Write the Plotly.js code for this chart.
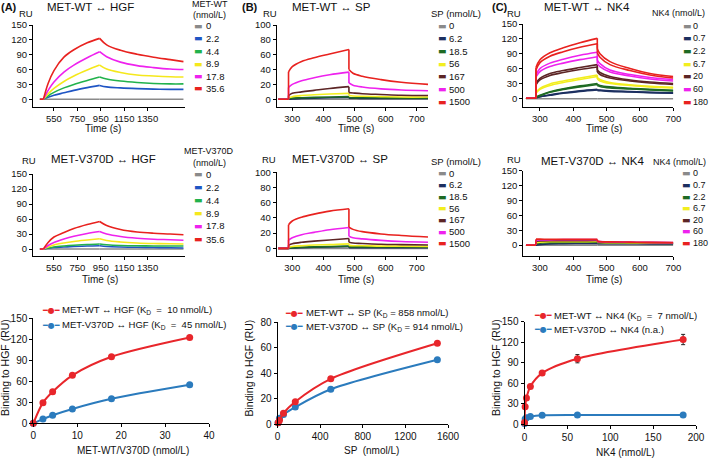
<!DOCTYPE html>
<html><head><meta charset="utf-8">
<script src="https://cdn.plot.ly/plotly-3.0.1.min.js"></script>
<style>html,body{margin:0;padding:0;background:#fff}#chart{width:709px;height:459px}</style>
</head><body><div id="chart"></div>
<script>
// ================= DATA =================
// concentration labels
const concHGF = ['0', '2.2', '4.4', '8.9', '17.8', '35.6'];
const concSP = ['0', '6.2', '18.5', '56', '167', '500', '1500'];
const concNK4 = ['0', '0.7', '2.2', '6.7', '20', '60', '180'];

// ---- (A) HGF sensorgrams: time (s) ----
const timeHGF = [430, 460, 500, 550, 635, 720, 834, 940, 1000, 1118, 1260, 1401, 1543, 1656];
const wtHGF_0    = [0, 0, 0, 0, 0, 0, 0, 0, 0, 0, 0, 0, 0, 0];
const wtHGF_2_2  = [0, 0, 4, 8, 13, 18, 23.5, 28, 25, 23, 21.5, 20.5, 20, 20];
const wtHGF_4_4  = [0, 0, 7, 14, 23, 30, 38, 45, 41, 37, 34, 32, 31, 31];
const wtHGF_8_9  = [0, 0, 11, 22, 36, 47, 59, 69, 61, 54, 49, 47, 45.5, 45];
const wtHGF_17_8 = [0, 0, 18, 35, 55, 69, 84, 96, 86, 75, 68, 64, 61, 60];
const wtHGF_35_6 = [0, 0, 32, 58, 85, 100, 114, 123, 110, 99, 91, 85, 80, 76];

const mutHGF_0    = [0, 0, 0, 0, 0, 0, 0, 0, 0, 0, 0, 0, 0, 0];
const mutHGF_2_2  = [0, 0, 1.5, 3, 4, 5, 6, 6.5, 5, 4, 3.5, 3, 2.5, 2];
const mutHGF_4_4  = [0, 0, 2, 4, 6, 7.5, 9, 10, 8.5, 7, 6.5, 6, 6, 6];
const mutHGF_8_9  = [0, 0, 4, 8, 12, 15, 18, 20.5, 17, 14, 12, 11, 10.5, 10];
const mutHGF_17_8 = [0, 0, 7, 13, 20, 25.5, 31, 35, 30, 25, 21.5, 19.5, 18.5, 17.5];
const mutHGF_35_6 = [0, 0, 13, 24, 33, 41, 49, 55, 47, 39, 34, 31.5, 30, 28.5];

// ---- (B) SP sensorgrams ----
const timeSP = [255, 288, 288, 300, 330, 370, 420, 482, 482, 495, 525, 585, 650, 736];
const wtSP_0    = [0, 0, 0, 0, 0, 0, 0, 0, 0, 0, 0, 0, 0, 0];
const wtSP_6_2  = [0, 0, 0, 0.5, 1, 1.5, 2, 2.5, 1.5, 1.5, 1, 1, 1, 1];
const wtSP_18_5 = [0, 0, 0.5, 1.5, 2, 2.5, 3, 3.5, 2.5, 2, 2, 2, 1.5, 1.5];
const wtSP_56   = [0, 0, 2, 3.5, 5, 6, 7, 8, 5, 4.5, 4, 3.5, 3, 3];
const wtSP_167  = [0, 0, 5, 8, 10, 12, 14.5, 17, 9, 8.5, 7.5, 6.5, 5.5, 5];
const wtSP_500  = [0, 0, 16, 20, 25, 29, 33, 36.5, 22, 19, 16.5, 14, 12.5, 11.5];
const wtSP_1500 = [0, 0, 37, 44, 51, 56, 61, 67, 40, 35, 31, 26.5, 23, 20];

const mutSP_0    = [0, 0, 0, 0, 0, 0, 0, 0, 0, 0, 0, 0, 0, 0];
const mutSP_6_2  = [0, 0, 0, 0.5, 1, 1.5, 2, 2.5, 1, 1, 1, 1, 1, 1];
const mutSP_18_5 = [0, 0, 0.5, 1, 1.5, 2, 2.5, 3, 2, 2, 2, 2, 2, 2];
const mutSP_56   = [0, 0, 1.5, 2.5, 3.5, 4.5, 5, 6, 4, 3.5, 3.5, 3, 3, 2.5];
const mutSP_167  = [0, 0, 4, 6, 8, 9.5, 11, 13, 8, 7, 6.5, 5.5, 5, 4.5];
const mutSP_500  = [0, 0, 11, 14, 18, 21, 24.5, 27.5, 16, 14, 12.5, 10.5, 9, 8];
const mutSP_1500 = [0, 0, 31, 36, 41, 45, 49, 52, 28, 25, 22, 19, 17, 15];

// ---- (C) NK4 sensorgrams (two replicate runs for WT) ----
const timeNK4 = [258, 288, 288, 300, 330, 370, 420, 472, 472, 480, 510, 570, 630, 700];
const wtNK4_0     = [-1, -1, -1, -1, -1, -1, -1, -1, -1, -1, -1, -1, -1, -1];
const wtNK4_0_7a  = [0, 0, 1, 3, 7, 11, 15, 18, 17, 16.5, 15, 13.5, 12, 11];
const wtNK4_0_7b  = [0, 0, 1, 3, 6, 10, 14, 17, 16, 15.5, 14, 13, 11.5, 10.5];
const wtNK4_2_2a  = [0, 0, 2, 6, 13, 19, 25, 30, 28, 26, 23, 20, 18, 16];
const wtNK4_2_2b  = [0, 0, 2, 5, 12, 18, 23, 28, 26, 24, 21, 19, 17, 15];
const wtNK4_6_7a  = [0, 0, 12, 20, 29, 35, 41, 47, 42, 38, 32, 27, 24, 22];
const wtNK4_6_7b  = [0, 0, 10, 18, 26, 32, 38, 44, 39, 35, 30, 26, 23, 21];
const wtNK4_20a   = [0, 0, 30, 40, 50, 56, 62, 68, 57, 52, 44, 37, 33, 30];
const wtNK4_20b   = [0, 0, 27, 37, 46, 52, 58, 63, 53, 48, 41, 35, 31, 28];
const wtNK4_60a   = [0, 0, 48, 60, 71, 79, 87, 93, 77, 70, 57, 48, 42, 38];
const wtNK4_60b   = [0, 0, 43, 54, 64, 71, 78, 84, 70, 64, 53, 45, 39, 35];
const wtNK4_180a  = [0, 0, 62, 78, 92, 102, 112, 121, 100, 90, 74, 60, 50, 44];
const wtNK4_180b  = [0, 0, 57, 72, 85, 94, 103, 110, 92, 83, 68, 56, 47, 41];

const mutNK4_0   = [0, 0, 0, 0, 0, 0, 0, 0, 0, 0, 0, 0, 0, 0];
const mutNK4_0_7 = [0, 0, 0, 1, 2.5, 3, 3.5, 3.5, 3, 3, 3, 3, 2.5, 2.5];
const mutNK4_2_2 = [0, 0, 2, 4, 5, 5.5, 6, 6, 5, 5, 4.5, 4, 4, 3.5];
const mutNK4_6_7 = [0, 0, 5, 6, 7, 7, 7, 7.5, 6, 5.5, 5, 4.5, 4, 4];
const mutNK4_20  = [0, 0, 8, 8.5, 9, 9, 9, 9.5, 7, 6.5, 6, 5.5, 5, 4.5];
const mutNK4_60  = [0, 0, 10, 10.5, 10.5, 11, 11, 11, 7.5, 7, 6.5, 6, 5.5, 5];
const mutNK4_180 = [0, 0, 12, 12, 11.5, 11.5, 11.5, 11.5, 8, 7, 6.5, 6, 5.5, 5];

// ---- bottom row: binding vs concentration ----
const bindHGF_x   = [0, 2.2, 4.4, 8.9, 17.8, 35.6];
const bindHGF_wt  = [0, 29.5, 45, 68.5, 95, 122.5];
const bindHGF_mut = [0, 6, 11.5, 20.5, 35, 55];

const bindSP_x   = [6.2, 18.5, 56, 167, 500, 1500];
const bindSP_wt  = [1, 3, 8.5, 17.5, 35.5, 63.5];
const bindSP_mut = [1, 4.5, 7.5, 13.3, 27.3, 50.5];

const bindNK4_x      = [0, 0.76, 2.28, 6.85, 20.6, 61.7, 185];
const bindNK4_wt     = [3, 26, 38.5, 55.5, 75, 96, 124];
const bindNK4_wt_err = [0, 3, 2, 2, 2, 6, 7.5];
const bindNK4_mut    = [1.5, 8, 10, 11.5, 13.5, 14, 14];

// ================= STYLE / LAYOUT =================
const W = 709, H = 459;
const FONT = 'Liberation Sans, Arial, Helvetica, sans-serif';
const hgfColors = ['#8a8a8a', '#1f55c4', '#22b24c', '#f5e81c', '#ee22ee', '#e8221f'];
const spColors  = ['#8a8a8a', '#1c2f60', '#1e6a23', '#f2ee1e', '#5c2525', '#ee22ee', '#e8221f'];
const RED = '#e8262b', BLUE = '#2b7bbd';

const px = x => x / W;
const py = y => 1 - y / H;

const layout = {
  width: W, height: H, margin: {l: 0, r: 0, t: 0, b: 0},
  paper_bgcolor: '#fff', plot_bgcolor: 'rgba(0,0,0,0)',
  showlegend: false, annotations: [], font: {family: FONT, color: '#111'}
};

function addAxes(n, xd, yd, xr, yr, xt, yt, fs) {
  const xk = n === 1 ? 'xaxis' : 'xaxis' + n;
  const yk = n === 1 ? 'yaxis' : 'yaxis' + n;
  const common = {showline: true, linecolor: '#000', linewidth: 1, ticks: 'outside', ticklen: 3,
    tickwidth: 1, tickcolor: '#000', showgrid: false, zeroline: false, fixedrange: true,
    tickfont: {family: FONT, size: fs, color: '#111'}};
  layout[xk] = Object.assign({}, common, {domain: [px(xd[0]), px(xd[1])], range: xr,
    anchor: 'y' + (n === 1 ? '' : n), tickvals: xt});
  layout[yk] = Object.assign({}, common, {domain: [py(yd[1]), py(yd[0])], range: yr,
    anchor: 'x' + (n === 1 ? '' : n), tickvals: yt});
}

const tA = [550, 750, 950, 1150, 1350];
const tBC = [300, 400, 500, 600, 700];
const y150 = [0, 30, 60, 90, 120, 150];
const y100 = [0, 20, 40, 60, 80, 100];

addAxes(1, [33, 184.5], [25, 106.7], [371, 1665], [-15, 150], tA, y150, 9.5);
addAxes(2, [276.7, 428.3], [25, 106.7], [250, 737], [-10, 100], tBC, y100, 9.5);
addAxes(3, [523.3, 673.3], [24, 106.7], [250, 700], [-17, 150], tBC, y150, 9.5);
addAxes(4, [33, 184.5], [174, 256], [371, 1665], [-14, 150], tA, y150, 9.5);
addAxes(5, [276.7, 428.3], [172.3, 256], [250, 737], [-10, 100], tBC, y100, 9.5);
addAxes(6, [523.3, 673.3], [170.7, 256], [250, 700], [-22, 150], tBC, y150, 9.5);
addAxes(7, [33.3, 209], [318.3, 423.3], [0, 40], [0, 150], [0, 10, 20, 30, 40], y150, 10);
addAxes(8, [277.5, 448], [322.3, 424], [0, 1600], [0, 80], [0, 400, 800, 1200, 1600], [0, 20, 40, 60, 80], 10);
addAxes(9, [524.5, 696], [321.7, 424.5], [0, 200], [0, 150], [0, 50, 100, 150, 200], y150, 10);

// segments: [shape, startIndex, endIndex]
const segA  = [['linear', 0, 1], ['spline', 1, 7], ['spline', 7, 13]];
const segBC = [['linear', 0, 1], ['linear', 1, 2], ['spline', 2, 7], ['linear', 7, 8], ['spline', 8, 13]];

const traces = [];
function sensor(t, list, colors, seg, n) {
  const xa = n === 1 ? 'x' : 'x' + n, ya = n === 1 ? 'y' : 'y' + n;
  list.forEach((v, k) => {
    seg.forEach(([shape, a, b]) => {
      traces.push({type: 'scatter', mode: 'lines', x: t.slice(a, b + 1), y: v.slice(a, b + 1),
        xaxis: xa, yaxis: ya, hoverinfo: 'skip', cliponaxis: true,
        line: {color: colors[k], width: 1.6, shape: shape, smoothing: 1}});
    });
  });
}
sensor(timeHGF, [wtHGF_0, wtHGF_2_2, wtHGF_4_4, wtHGF_8_9, wtHGF_17_8, wtHGF_35_6], hgfColors, segA, 1);
sensor(timeSP, [wtSP_0, wtSP_6_2, wtSP_18_5, wtSP_56, wtSP_167, wtSP_500, wtSP_1500], spColors, segBC, 2);
sensor(timeNK4, [wtNK4_0, wtNK4_0_7a, wtNK4_0_7b, wtNK4_2_2a, wtNK4_2_2b, wtNK4_6_7a, wtNK4_6_7b,
  wtNK4_20a, wtNK4_20b, wtNK4_60a, wtNK4_60b, wtNK4_180a, wtNK4_180b],
  [spColors[0], spColors[1], spColors[1], spColors[2], spColors[2], spColors[3], spColors[3],
   spColors[4], spColors[4], spColors[5], spColors[5], spColors[6], spColors[6]], segBC, 3);
sensor(timeHGF, [mutHGF_0, mutHGF_2_2, mutHGF_4_4, mutHGF_8_9, mutHGF_17_8, mutHGF_35_6], hgfColors, segA, 4);
sensor(timeSP, [mutSP_0, mutSP_6_2, mutSP_18_5, mutSP_56, mutSP_167, mutSP_500, mutSP_1500], spColors, segBC, 5);
sensor(timeNK4, [mutNK4_0, mutNK4_0_7, mutNK4_2_2, mutNK4_6_7, mutNK4_20, mutNK4_60, mutNK4_180], spColors, segBC, 6);

function binding(x, y, color, n, err) {
  const t = {type: 'scatter', mode: 'lines+markers', x: x, y: y, xaxis: 'x' + n, yaxis: 'y' + n,
    cliponaxis: false, hoverinfo: 'skip',
    line: {color: color, width: 2, shape: 'spline', smoothing: 0.8},
    marker: {color: color, size: 7}};
  if (err) t.error_y = {type: 'data', array: err, visible: true, color: '#222', thickness: 1, width: 2};
  traces.push(t);
}
binding(bindHGF_x, bindHGF_mut, BLUE, 7);
binding(bindHGF_x, bindHGF_wt, RED, 7);
binding(bindSP_x, bindSP_mut, BLUE, 8);
binding(bindSP_x, bindSP_wt, RED, 8);
binding(bindNK4_x, bindNK4_mut, BLUE, 9);
binding(bindNK4_x, bindNK4_wt, RED, 9, bindNK4_wt_err);

// ---------- text annotations ----------
const ann = layout.annotations;
function txt(text, x, y, opts) {
  const o = Object.assign({size: 10, xanchor: 'center', yanchor: 'middle', color: '#111', angle: 0}, opts || {});
  ann.push({text: text, x: px(x), y: py(y), xref: 'paper', yref: 'paper', showarrow: false,
    xanchor: o.xanchor, yanchor: o.yanchor, textangle: o.angle, borderpad: 0,
    font: {family: o.family || FONT, size: o.size, color: o.color}});
}
// panel letters
txt('<b>(A)</b>', 0, 7, {xanchor: 'left', size: 11});
txt('<b>(B)</b>', 241, 7, {xanchor: 'left', size: 11});
txt('<b>(C)</b>', 491, 7, {xanchor: 'left', size: 11});
// RU labels
[[26, 13], [270, 13], [514, 13], [28.5, 160.5], [268.5, 159.5], [513.5, 159]].forEach(p => txt('RU', p[0], p[1], {size: 9.5}));
// panel titles
txt('MET-WT \u2194 HGF', 90.7, 7, {size: 11.5});
txt('MET-WT \u2194 SP', 331, 7, {size: 11.5});
txt('MET-WT \u2194 NK4', 586.7, 7, {size: 11.5});
txt('MET-V370D \u2194 HGF', 103, 158.5, {size: 11.5});
txt('MET-V370D \u2194 SP', 340, 159, {size: 11.5});
txt('MET-V370D \u2194 NK4', 592, 161, {size: 11.5});
// time labels
[[103, 128.5], [356, 128.5], [604, 128.5], [100, 279], [356, 279], [604, 279]].forEach(p => txt('Time (s)', p[0], p[1], {size: 10}));

// sensorgram legends
function legend(labels, colors, sx, tx, y0, dy, fs) {
  labels.forEach((lab, i) => {
    txt('\u25AC', sx, y0 + dy * i, {xanchor: 'left', size: 9, color: colors[i], family: 'DejaVu Sans'});
    txt(lab, tx, y0 + dy * i, {xanchor: 'left', size: fs});
  });
}
txt('MET-WT', 210, 4.5, {size: 9});
txt('(nmol/L)', 209, 15, {size: 9});
legend(concHGF, hgfColors, 192.5, 205, 26, 12.5, 9.5);
txt('SP (nmol/L)', 430, 13, {xanchor: 'left', size: 9.5});
legend(concSP, spColors, 437, 448, 25.7, 12.7, 9.5);
txt('NK4 (nmol/L)', 651, 13, {xanchor: 'left', size: 9});
legend(concNK4, spColors, 681.5, 692, 25.7, 12.7, 9);
txt('MET-V370D', 209, 151, {size: 9});
txt('(nmol/L)', 209, 163, {size: 9});
legend(concHGF, hgfColors, 192.5, 205, 174, 13, 9.5);
txt('SP (nmol/L)', 430, 161.7, {xanchor: 'left', size: 9.5});
legend(concSP, spColors, 437, 448, 173.3, 11.67, 9.5);
txt('NK4 (nmol/L)', 652, 161.7, {xanchor: 'left', size: 9});
legend(concNK4, spColors, 681, 692, 173.3, 11.6, 9);

// bottom legends
function bLegend(cx, tx, y, color, text) {
  txt('\u2501\u25CF\u2501', cx, y, {size: 8, color: color, family: 'DejaVu Sans'});
  txt(text, tx, y, {xanchor: 'left', size: 9.5});
}
bLegend(50.5, 61, 310, RED, 'MET-WT \u2194 HGF (K<sub>D</sub>  =  10 nmol/L)');
bLegend(50.5, 61, 325, BLUE, 'MET-V370D \u2194 HGF (K<sub>D</sub>  =  45 nmol/L)');
bLegend(294, 305, 313.3, RED, 'MET-WT \u2194 SP (K<sub>D</sub> = 858 nmol/L)');
bLegend(294, 305, 326.7, BLUE, 'MET-V370D \u2194 SP (K<sub>D</sub> = 914 nmol/L)');
bLegend(542.5, 553.3, 315.7, RED, 'MET-WT \u2194 NK4 (K<sub>D</sub>  =  7 nmol/L)');
bLegend(542.5, 553.3, 329, BLUE, 'MET-V370D \u2194 NK4 (n.a.)');

// bottom axis titles
txt('MET-WT/V370D (nmol/L)', 132.5, 450.7, {size: 10});
txt('SP  (nmol/L)', 371.7, 450.7, {size: 10});
txt('NK4 (nmol/L)', 625, 452, {size: 10});
txt('Binding to HGF (RU)', 5, 368, {size: 10.5, angle: -90});
txt('Binding to HGF (RU)', 248.5, 368, {size: 10.5, angle: -90});
txt('Binding to HGF (RU)', 496, 368, {size: 10.5, angle: -90});

Plotly.newPlot('chart', traces, layout, {staticPlot: true, displayModeBar: false});
</script>
</body></html>
